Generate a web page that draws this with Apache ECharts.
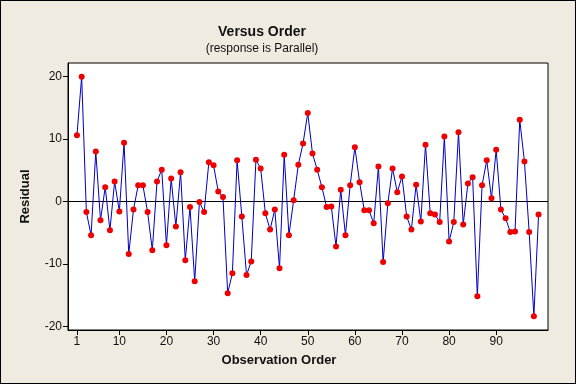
<!DOCTYPE html>
<html>
<head>
<meta charset="utf-8">
<script src="https://cdn.jsdelivr.net/npm/echarts@6/dist/echarts.min.js"></script>
<style>
html,body{margin:0;padding:0;background:#F0EBE1;}
#c{width:576px;height:384px;box-sizing:border-box;border:1px solid #000;}
</style>
</head>
<body>
<div id="c"></div>
<script>
var residuals = [10.6, 20.0, -1.7, -5.4, 8.0, -3.0, 2.3, -4.6, 3.2, -1.6,
  9.4, -8.4, -1.3, 2.6, 2.6, -1.7, -7.8, 3.2, 5.1, -7.0,
  3.7, -4.0, 4.7, -9.4, -0.9, -12.8, -0.1, -1.7, 6.3, 5.8,
  1.6, 0.7, -14.7, -11.5, 6.6, -2.4, -11.8, -9.6, 6.7, 5.3,
  -1.9, -4.5, -1.3, -10.7, 7.5, -5.4, 0.2, 5.9, 9.3, 14.2,
  7.7, 5.1, 2.3, -0.9, -0.8, -7.2, 1.9, -5.4, 2.6, 8.7,
  3.1, -1.4, -1.4, -3.5, 5.6, -9.7, -0.3, 5.3, 1.5, 4.0,
  -2.4, -4.5, 2.7, -3.2, 9.1, -1.9, -2.1, -3.3, 10.4, -6.4,
  -3.3, 11.1, -3.7, 2.9, 3.9, -15.2, 2.6, 6.6, 0.5, 8.3,
  -1.3, -2.7, -4.9, -4.8, 13.1, 6.4, -4.9, -18.4, -2.1];
var xTicks = [1, 10, 20, 30, 40, 50, 60, 70, 80, 90];
var yTicks = [-20, -10, 0, 10, 20];
var titleText = 'Versus Order';
var subtitleText = '(response is Parallel)';
var xName = 'Observation Order';
var yName = 'Residual';

var data = residuals.map(function (v, i) { return [i + 1, v]; });
var font = '"Liberation Sans", Arial, sans-serif';

var chart = echarts.init(document.getElementById('c'), null, {renderer: 'canvas'});
chart.setOption({
  backgroundColor: '#F0EBE1',
  animation: false,
  title: [
    {text: titleText, left: 256, top: 19, textAlign: 'center',
     textStyle: {fontFamily: font, fontSize: 14, fontWeight: 'bold', color: '#111'}},
    {text: subtitleText, left: 256, top: 37, textAlign: 'center',
     textStyle: {fontFamily: font, fontSize: 12, fontWeight: 'normal', color: '#111'}}
  ],
  grid: {left: 67, top: 62, right: 27, bottom: 53, show: true, backgroundColor: '#fff',
         borderColor: '#000', borderWidth: 1},
  xAxis: {
    type: 'value', min: -0.9, max: 101,
    name: xName, nameLocation: 'middle', nameGap: 24,
    nameTextStyle: {fontFamily: font, fontSize: 13, fontWeight: 'bold', color: '#111', padding: [0, 58, 0, 0]},
    axisLine: {show: true, onZero: false, lineStyle: {color: '#000'}},
    axisTick: {show: true, length: 5, customValues: xTicks, lineStyle: {color: '#000'}},
    axisLabel: {customValues: xTicks, fontFamily: font, fontSize: 12, color: '#111', margin: 6},
    splitLine: {show: false}
  },
  yAxis: {
    type: 'value', min: -20.6, max: 22.2,
    name: yName, nameLocation: 'middle', nameGap: 36, nameRotate: 90,
    nameTextStyle: {fontFamily: font, fontSize: 13, fontWeight: 'bold', color: '#111'},
    axisLine: {show: true, onZero: false, lineStyle: {color: '#000'}},
    axisTick: {show: true, length: 5, customValues: yTicks, lineStyle: {color: '#000'}},
    axisLabel: {customValues: yTicks, fontFamily: font, fontSize: 12, color: '#111', margin: 6},
    splitLine: {show: false}
  },
  series: [{
    type: 'line', data: data,
    symbol: 'circle', symbolSize: 6, showSymbol: true,
    lineStyle: {color: '#0000C0', width: 1},
    itemStyle: {color: '#EE0000', borderWidth: 0},
    z: 3,
    markLine: {
      silent: true, symbol: 'none', label: {show: false},
      lineStyle: {color: '#000', width: 1, type: 'solid'},
      data: [{yAxis: 0}], z: 1
    }
  }]
});
</script>
</body>
</html>
